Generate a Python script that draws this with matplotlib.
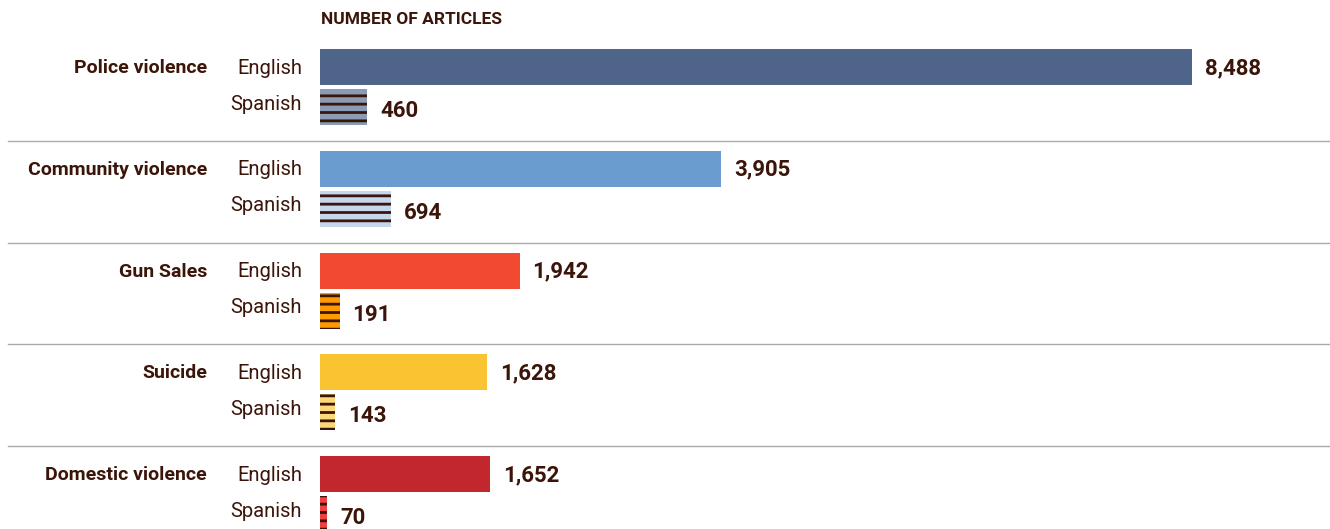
import numpy as np
import matplotlib.pyplot as plt

plt.rcParams['font.family'] = ['Roboto', 'DejaVu Sans']
plt.rcParams['hatch.linewidth'] = 2.0

# data
categories = ['Police violence', 'Community violence', 'Gun Sales', 'Suicide', 'Domestic violence']
english = [8488, 3905, 1942, 1628, 1652]
spanish = [460, 694, 191, 143, 70]
eng_colors = ['#4f6489', '#6a9ccf', '#f24a31', '#f9c332', '#c1272d']
spa_colors = ['#8a9bb5', '#c6d6ed', '#ff9a00', '#fbd97a', '#f2403e']
text_col = '#3b150a'

W, H = 1330, 529
fig = plt.figure(figsize=(W / 100, H / 100), dpi=100)
# axes in pixel-aligned units: y is pixels from top
x0 = 320
ax = fig.add_axes([x0 / W, 0, (W - x0) / W, 1])
scale = (1192 - x0) / english[0]
ax.set_xlim(0, (W - x0) / scale)
ax.set_ylim(H, 0)
ax.axis('off')

step = 101.8
eng_y = 67 + step * np.arange(len(categories))
spa_y = eng_y + 40
bh = 36

ax.barh(eng_y, english, height=bh, color=eng_colors, linewidth=0)
ax.barh(spa_y, spanish, height=bh, color=spa_colors, hatch='--',
        edgecolor=text_col, linewidth=0)

pad = 13 / scale
for i in range(len(categories)):
    ax.text(english[i] + pad, eng_y[i] + 1, f'{english[i]:,}', va='center', ha='left',
            fontsize=16, fontweight='bold', color=text_col)
    ax.text(spanish[i] + pad, spa_y[i] + 4, f'{spanish[i]:,}', va='center', ha='left',
            fontsize=16, fontweight='bold', color=text_col)

# labels on the left, in figure pixel coords
def fy(y):
    return 1 - y / H

for i, cat in enumerate(categories):
    fig.text(207 / W, fy(eng_y[i] + 1), cat, ha='right', va='center', fontsize=14,
             fontweight='bold', color=text_col)
    fig.text(302 / W, fy(eng_y[i] + 1), 'English', ha='right', va='center', fontsize=14.5,
             color=text_col)
    fig.text(302 / W, fy(spa_y[i] - 3), 'Spanish', ha='right', va='center', fontsize=14.5,
             color=text_col)

# separators between groups
for i in range(1, len(categories)):
    yy = fy(eng_y[i] - 28)
    fig.add_artist(plt.Line2D([8 / W, 1], [yy, yy], color='#aaaaaa', linewidth=1))

fig.text(321 / W, fy(19), 'NUMBER OF ARTICLES', ha='left', va='center', fontsize=12.5,
         fontweight='bold', color=text_col)

fig.savefig('out.png', dpi=100)
